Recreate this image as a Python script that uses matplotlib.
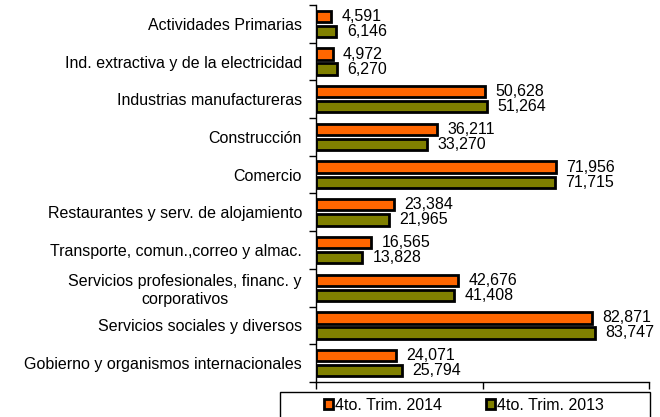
import numpy as np
import matplotlib.pyplot as plt
from matplotlib.patches import Rectangle

# Datos
categorias = ['Actividades Primarias',
              'Ind. extractiva y de la electricidad',
              'Industrias manufactureras',
              'Construcción',
              'Comercio',
              'Restaurantes y serv. de alojamiento',
              'Transporte, comun.,correo y almac.',
              'Servicios profesionales, financ. y\ncorporativos',
              'Servicios sociales y diversos',
              'Gobierno y organismos internacionales']
trim_2014 = [4591, 4972, 50628, 36211, 71956, 23384, 16565, 42676, 82871, 24071]
trim_2013 = [6146, 6270, 51264, 33270, 71715, 21965, 13828, 41408, 83747, 25794]

plt.rcParams['font.family'] = ['Liberation Sans', 'DejaVu Sans']

fig = plt.figure(figsize=(6.6, 4.17), dpi=100)
ax = fig.add_axes([316 / 660, 1 - 382 / 417, 333 / 660, 377 / 417])

y = np.arange(len(categorias))
h = 0.3
b1 = ax.barh(y - 0.2, trim_2014, height=h, color='#FF6600', edgecolor='black',
             linewidth=2, label='4to. Trim. 2014')
b2 = ax.barh(y + 0.2, trim_2013, height=h, color='#808000', edgecolor='black',
             linewidth=2, label='4to. Trim. 2013')

# etiquetas de valor
for bars, vals in [(b1, trim_2014), (b2, trim_2013)]:
    ax.bar_label(bars, labels=[f'{v:,}' for v in vals], padding=7.5, fontsize=11.5)

ax.set_xlim(0, 100000)
ax.set_ylim(len(categorias) - 0.5, -0.5)
ax.set_xticks([0, 50000, 100000])
ax.set_xticklabels([])
ax.tick_params(axis='x', direction='out', length=5, width=1)

ax.set_yticks(y)
ax.set_yticklabels(categorias, fontsize=11.5, ha='center', multialignment='center')
ax.tick_params(axis='y', which='major', length=0, pad=0)
ax.set_yticks(np.arange(-0.5, len(categorias), 1), minor=True)
ax.tick_params(axis='y', which='minor', direction='out', length=5, width=1)

# centrar etiquetas multilinea, alineadas a la derecha del bloque
fig.canvas.draw()
rend = fig.canvas.get_renderer()
for lab in ax.get_yticklabels():
    w = lab.get_window_extent(rend).width
    lab.set_x(-(14 + w / 2) / 333)

for s in ['top', 'right']:
    ax.spines[s].set_visible(False)
ax.spines['left'].set_linewidth(1)
ax.spines['bottom'].set_linewidth(1)

# leyenda
fig.patches.append(Rectangle((280 / 660, -0.05), 370 / 660, 0.05 + 25 / 417,
                             transform=fig.transFigure, fill=False,
                             edgecolor='black', linewidth=1))
leg = fig.legend(handles=[b1, b2], loc='center left', ncol=2,
                 bbox_to_anchor=(324 / 660, 1 - 405 / 417),
                 fontsize=11.5, frameon=False, borderaxespad=0, borderpad=0,
                 handlelength=0.55, handleheight=0.55, handletextpad=0.15,
                 columnspacing=2.75)

fig.savefig('out.png', dpi=100)
